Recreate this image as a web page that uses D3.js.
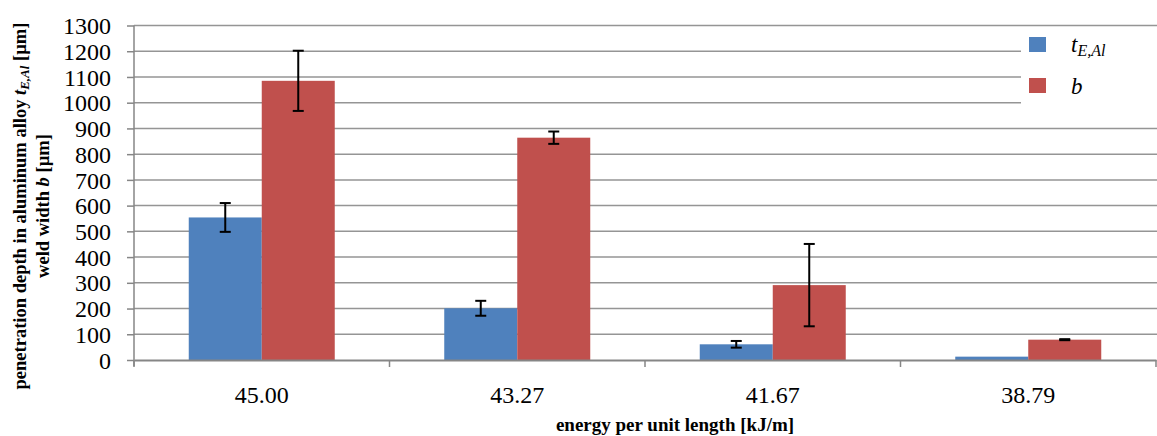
<!DOCTYPE html>
<html>
<head>
<meta charset="utf-8">
<script src="https://cdn.jsdelivr.net/npm/d3@7"></script>
<style>
  body { margin: 0; background: #fff; }
  svg text { font-family: "Liberation Serif", "Times New Roman", serif; fill: #000; }
</style>
</head>
<body>
<svg id="chart" width="1157" height="436"></svg>
<script>
var categories = ["45.00", "43.27", "41.67", "38.79"];
var series = ["tE", "b"];
var tEValues = [554, 201, 61, 13];
var tEErrors = [56, 29, 13, 0];
var bValues = [1085, 864, 291, 79];
var bErrors = [117, 24, 160, 2];
var yTicks = [0, 100, 200, 300, 400, 500, 600, 700, 800, 900, 1000, 1100, 1200, 1300];

(function() {
  var colors = { tE: "#4f81bd", b: "#c0504d" };
  var svg = d3.select("#chart");

  var plotLeft = 134, plotRight = 1156, plotTop = 25.5, plotBottom = 360;

  var x0 = d3.scaleBand().domain(categories).range([plotLeft, plotRight]).padding(0);
  var x1 = d3.scaleBand().domain(series).range([0, x0.bandwidth()]).paddingInner(0).paddingOuter(0.75);
  var y = d3.scaleLinear().domain([0, 1300]).range([plotBottom, plotTop]);

  // gridlines
  svg.append("g").selectAll("line")
    .data(yTicks.filter(d => d > 0))
    .enter().append("line")
    .attr("x1", plotLeft).attr("x2", plotRight + 1)
    .attr("y1", d => y(d)).attr("y2", d => y(d))
    .attr("stroke", "#959595").attr("stroke-width", 1.5);

  // bars
  var rows = categories.map((c, i) => ({
    cat: c,
    items: [
      { key: "tE", v: tEValues[i], e: tEErrors[i] },
      { key: "b", v: bValues[i], e: bErrors[i] }
    ]
  }));

  var groups = svg.append("g").selectAll("g")
    .data(rows).enter().append("g")
    .attr("transform", d => "translate(" + x0(d.cat) + ",0)");

  groups.selectAll("rect")
    .data(d => d.items).enter().append("rect")
    .attr("x", d => x1(d.key))
    .attr("width", x1.bandwidth())
    .attr("y", d => y(d.v))
    .attr("height", d => y(0) - y(d.v))
    .attr("fill", d => colors[d.key]);

  // error bars
  var cx = d => x1(d.key) + x1.bandwidth() / 2;
  var errs = groups.selectAll("g.err")
    .data(d => d.items.filter(it => it.e > 0)).enter().append("g")
    .attr("class", "err")
    .attr("stroke", "#000").attr("stroke-width", 2);
  errs.append("line")
    .attr("x1", cx).attr("x2", cx)
    .attr("y1", d => y(d.v + d.e)).attr("y2", d => y(d.v - d.e));
  errs.append("line")
    .attr("x1", d => cx(d) - 5.5).attr("x2", d => cx(d) + 5.5)
    .attr("y1", d => y(d.v + d.e)).attr("y2", d => y(d.v + d.e));
  errs.append("line")
    .attr("x1", d => cx(d) - 5.5).attr("x2", d => cx(d) + 5.5)
    .attr("y1", d => y(d.v - d.e)).attr("y2", d => y(d.v - d.e));

  // y axis
  var yAxis = svg.append("g")
    .attr("transform", "translate(" + plotLeft + ",0)")
    .call(d3.axisLeft(y).tickValues(yTicks).tickSize(7).tickPadding(16).tickFormat(d3.format("d")))
    .attr("font-family", null).attr("font-size", null);
  yAxis.select(".domain").attr("stroke", "#868686").attr("stroke-width", 1.5)
    .attr("d", "M0," + plotTop + "V" + (plotBottom + 6));
  yAxis.selectAll(".tick line").attr("stroke", "#868686").attr("stroke-width", 1.5);
  yAxis.selectAll(".tick text")
    .style("font-family", "'Liberation Serif', serif")
    .style("font-size", "24px").attr("dy", "0.34em");

  // x axis
  var xAxis = svg.append("g")
    .attr("transform", "translate(0," + plotBottom + ")")
    .call(d3.axisBottom(x0).tickSize(0).tickPadding(26))
    .attr("font-family", null).attr("font-size", null);
  xAxis.select(".domain").attr("stroke", "#868686").attr("stroke-width", 2);
  xAxis.selectAll(".tick text")
    .style("font-family", "'Liberation Serif', serif")
    .style("font-size", "24px");
  svg.append("g").selectAll("line")
    .data(categories.concat(["end"]))
    .enter().append("line")
    .attr("x1", d => d === "end" ? plotRight : x0(d))
    .attr("x2", d => d === "end" ? plotRight : x0(d))
    .attr("y1", plotBottom).attr("y2", plotBottom + 7)
    .attr("stroke", "#868686").attr("stroke-width", 1.5);

  // axis titles
  svg.append("text")
    .attr("x", 675).attr("y", 431)
    .attr("text-anchor", "middle")
    .style("font-size", "19px").style("font-weight", "bold")
    .text("energy per unit length [kJ/m]");

  var yt = svg.append("text")
    .attr("transform", "translate(26,206) rotate(-90)")
    .attr("text-anchor", "middle")
    .style("font-size", "18.5px").style("font-weight", "bold");
  yt.append("tspan").text("penetration depth in aluminum alloy ");
  yt.append("tspan").style("font-style", "italic").text("t");
  yt.append("tspan").style("font-style", "italic").style("font-size", "13px").attr("dy", 3).text("E,Al");
  yt.append("tspan").attr("dy", -3).text(" [µm]");

  var yt2 = svg.append("text")
    .attr("transform", "translate(49,206) rotate(-90)")
    .attr("text-anchor", "middle")
    .style("font-size", "18.5px").style("font-weight", "bold");
  yt2.append("tspan").text("weld width ");
  yt2.append("tspan").style("font-style", "italic").text("b");
  yt2.append("tspan").text(" [µm]");

  // legend
  var legend = svg.append("g");
  legend.append("rect")
    .attr("x", 1021).attr("y", 27).attr("width", 136).attr("height", 86)
    .attr("fill", "#fff");
  var legendItems = [{ key: "tE", y: 37 }, { key: "b", y: 78 }];
  legend.selectAll("rect.sw")
    .data(legendItems).enter().append("rect")
    .attr("class", "sw")
    .attr("x", 1029).attr("y", d => d.y).attr("width", 17).attr("height", 15)
    .attr("fill", d => colors[d.key]);
  var lt = legend.append("text").attr("x", 1071).attr("y", 52)
    .style("font-size", "23px").style("font-style", "italic");
  lt.append("tspan").text("t");
  lt.append("tspan").style("font-size", "16px").attr("dy", 4).text("E,Al");
  legend.append("text").attr("x", 1071).attr("y", 94)
    .style("font-size", "23px").style("font-style", "italic")
    .text("b");
})();
</script>
</body>
</html>
